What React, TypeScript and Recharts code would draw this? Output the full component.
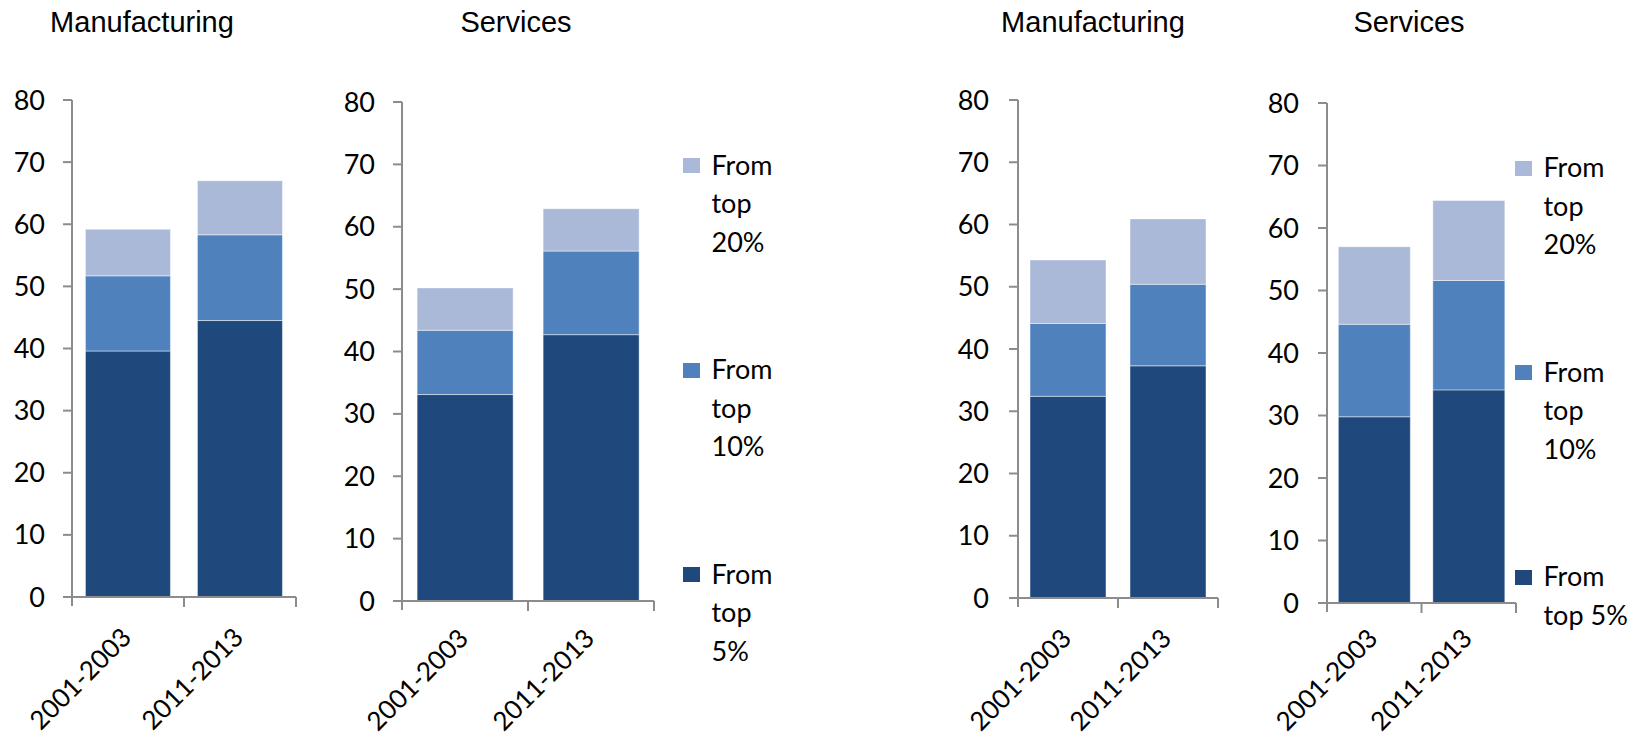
import { Bar, BarChart, XAxis, YAxis } from "recharts";

const periods = ["2001-2003", "2011-2013"];
const yTicks = [0, 10, 20, 30, 40, 50, 60, 70, 80];
const shareKeys = ["top5", "top10", "top20"];
const shareLabels = ["From top 5%", "From top 10%", "From top 20%"];
const shareColors = ["#1F497D", "#4F81BD", "#AAB9D7"];

// cumulative shares (top 5% / top 10% / top 20%), per period
const mfgA_top5 = [39.6, 44.5];
const mfgA_top10 = [51.7, 58.3];
const mfgA_top20 = [59.2, 67.0];

const srvA_top5 = [33.1, 42.7];
const srvA_top10 = [43.4, 56.1];
const srvA_top20 = [50.2, 62.9];

const mfgB_top5 = [32.4, 37.3];
const mfgB_top10 = [44.1, 50.4];
const mfgB_top20 = [54.3, 60.9];

const srvB_top5 = [29.8, 34.1];
const srvB_top10 = [44.6, 51.6];
const srvB_top20 = [57.0, 64.4];

const AXIS = "#8c8c8c";
const BODY_FONT = "Lato, 'Open Sans', sans-serif";
const YW = 70;

function stack(t5: number[], t10: number[], t20: number[]) {
  return periods.map((p, i) => ({
    period: p,
    top5: t5[i],
    top10: +(t10[i] - t5[i]).toFixed(2),
    top20: +(t20[i] - t10[i]).toFixed(2),
  }));
}

type PanelProps = {
  title: string;
  titleX: number;
  axisX: number;
  right: number;
  top: number;
  bottom: number;
  rows: any[];
  tickMargin: number;
};

function Panel({ title, titleX, axisX, right, top, bottom, rows, tickMargin }: PanelProps) {
  const plotW = right - axisX;
  const half = plotW / periods.length / 2;
  const w = YW + plotW + 12;

  const xTick = (props: any) => {
    const { x, y, payload, index } = props;
    const ax = x + 5;
    // keep the rotated labels clear of the bottom edge
    const ay = Math.min(y + 42, 640);
    return (
      <g>
        <line x1={x + half} x2={x + half} y1={y} y2={y + 10} stroke={AXIS} strokeWidth={2} />
        {index === 0 && <line x1={x - half} x2={x - half} y1={y} y2={y + 9} stroke={AXIS} strokeWidth={2} />}
        <text
          x={ax}
          y={ay}
          textAnchor="end"
          transform={`rotate(-45, ${ax}, ${ay})`}
          fontFamily={BODY_FONT}
          fontSize={26}
          fill="#000"
        >
          {payload.value}
        </text>
      </g>
    );
  };

  return (
    <>
      <div
        style={{
          position: "absolute",
          left: titleX - 150,
          top: 7.5,
          width: 300,
          textAlign: "center",
          fontFamily: "'Liberation Sans', Arial, sans-serif",
          fontSize: 29,
          lineHeight: "29px",
          color: "#000",
        }}
      >
        {title}
      </div>
      <div style={{ position: "absolute", left: axisX - YW, top: 0 }}>
        <BarChart
          width={w}
          height={737}
          data={rows}
          margin={{ top, right: 12, bottom: 0, left: 0 }}
          barCategoryGap="12%"
          style={{ overflow: "visible" }}
        >
          <XAxis
            dataKey="period"
            height={737 - bottom}
            axisLine={{ stroke: AXIS, strokeWidth: 2 }}
            tickLine={false}
            tickSize={0}
            tickMargin={0}
            tick={xTick}
            interval={0}
          />
          <YAxis
            width={YW}
            domain={[0, 80]}
            ticks={yTicks}
            interval={0}
            axisLine={{ stroke: AXIS, strokeWidth: 2 }}
            tickLine={{ stroke: AXIS, strokeWidth: 2 }}
            tickSize={9}
            tickMargin={tickMargin}
            tick={{ fill: "#000", fontSize: 27, fontFamily: BODY_FONT }}
          />
          {shareKeys.map((k, i) => (
            <Bar
              key={k}
              dataKey={k}
              name={shareLabels[i]}
              stackId="s"
              fill={shareColors[i]}
              stroke="rgba(255,255,255,0.45)"
              strokeWidth={1}
              isAnimationActive={false}
            />
          ))}
        </BarChart>
      </div>
    </>
  );
}

function ShareLegend({ left, top, textWidth }: { left: number; top: number; textWidth: number }) {
  const order = [2, 1, 0];
  return (
    <div style={{ position: "absolute", left, top }}>
      {order.map((i) => (
        <div key={i} style={{ display: "flex", alignItems: "flex-start", height: 204.5 }}>
          <div
            style={{
              width: 17,
              height: 15,
              marginTop: 12.5,
              marginRight: 11.5,
              background: shareColors[i],
              flex: "none",
            }}
          />
          <div
            style={{
              width: textWidth,
              fontFamily: BODY_FONT,
              fontSize: 27,
              lineHeight: "38.5px",
              color: "#000",
            }}
          >
            {shareLabels[i]}
          </div>
        </div>
      ))}
    </div>
  );
}

export default function App() {
  return (
    <div
      style={{
        position: "absolute",
        left: 0,
        top: 0,
        width: 1645,
        height: 737,
        background: "#fff",
        overflow: "hidden",
      }}
    >
      <Panel
        title="Manufacturing"
        titleX={142}
        axisX={72}
        right={296}
        top={100}
        bottom={597}
        rows={stack(mfgA_top5, mfgA_top10, mfgA_top20)}
        tickMargin={18}
      />
      <Panel
        title="Services"
        titleX={516}
        axisX={402}
        right={654}
        top={102}
        bottom={601}
        rows={stack(srvA_top5, srvA_top10, srvA_top20)}
        tickMargin={18}
      />
      <ShareLegend left={683} top={145.5} textWidth={72} />
      <Panel
        title="Manufacturing"
        titleX={1093}
        axisX={1018}
        right={1218}
        top={100}
        bottom={598}
        rows={stack(mfgB_top5, mfgB_top10, mfgB_top20)}
        tickMargin={20}
      />
      <Panel
        title="Services"
        titleX={1409}
        axisX={1327}
        right={1516}
        top={103}
        bottom={603}
        rows={stack(srvB_top5, srvB_top10, srvB_top20)}
        tickMargin={19}
      />
      <ShareLegend left={1515} top={148} textWidth={90} />
    </div>
  );
}
